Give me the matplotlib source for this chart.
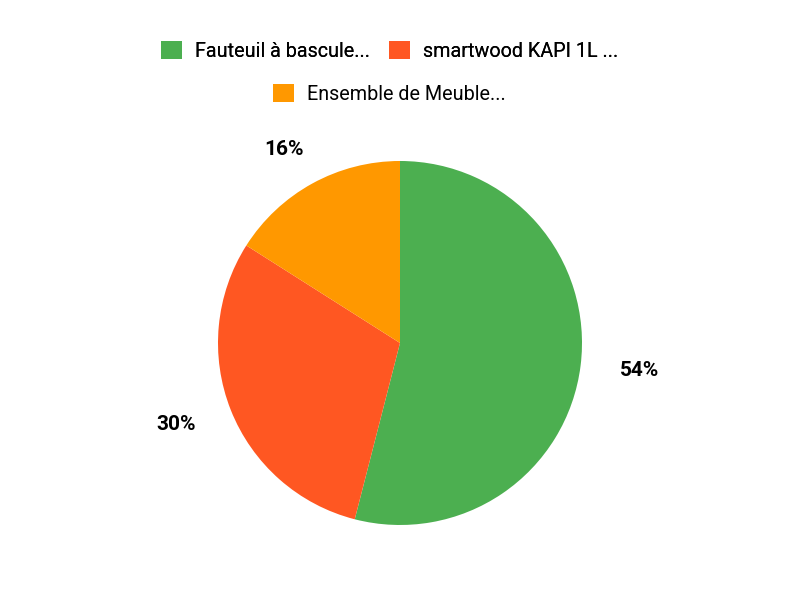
import matplotlib

matplotlib.use("Agg")
import matplotlib.pyplot as plt
import numpy as np
from matplotlib.patches import Patch

labels = ["Fauteuil à bascule...", "smartwood KAPI 1L ...", "Ensemble de Meuble..."]
values = [54, 30, 16]
colors = ["#4CAF50", "#FF5722", "#FF9800"]

plt.rcParams["font.family"] = ["Roboto", "DejaVu Sans"]

fig = plt.figure(figsize=(8, 6), dpi=100)
ax = fig.add_axes([0.2725, 0.125, 0.455, 0.6067])
wedges, _ = ax.pie(
    values,
    colors=colors,
    startangle=90,
    counterclock=False,
    wedgeprops={"linewidth": 0},
)
ax.set_xlim(-1, 1)
ax.set_ylim(-1, 1)
ax.set_aspect("equal")

# percentage labels just outside each slice
total = sum(values)
for w, v in zip(wedges, values):
    mid = np.deg2rad((w.theta1 + w.theta2) / 2)
    dx, dy = np.cos(mid), np.sin(mid)
    x = 1.2 * dx + 0.125 * dx
    y = 1.2 * dy + 0.015 * dy
    ax.text(x, y, f"{round(100 * v / total)}%", ha="center", va="center",
            fontsize=15, fontweight="bold", color="#000000")

handles = [Patch(facecolor=c, edgecolor="none") for c in colors]
common = dict(
    frameon=False,
    fontsize=14.2,
    handlelength=1.05,
    handleheight=1.05,
    handletextpad=0.65,
    columnspacing=1.0,
    borderpad=0,
)
leg1 = fig.legend(handles[:2], labels[:2], ncol=2, loc="center",
                  bbox_to_anchor=(0.487, 1 - 51 / 600), **common)
fig.add_artist(leg1)
fig.legend(handles[2:], labels[2:], ncol=1, loc="center",
           bbox_to_anchor=(0.487, 1 - 94 / 600), **common)

fig.savefig("out.png", dpi=100)
